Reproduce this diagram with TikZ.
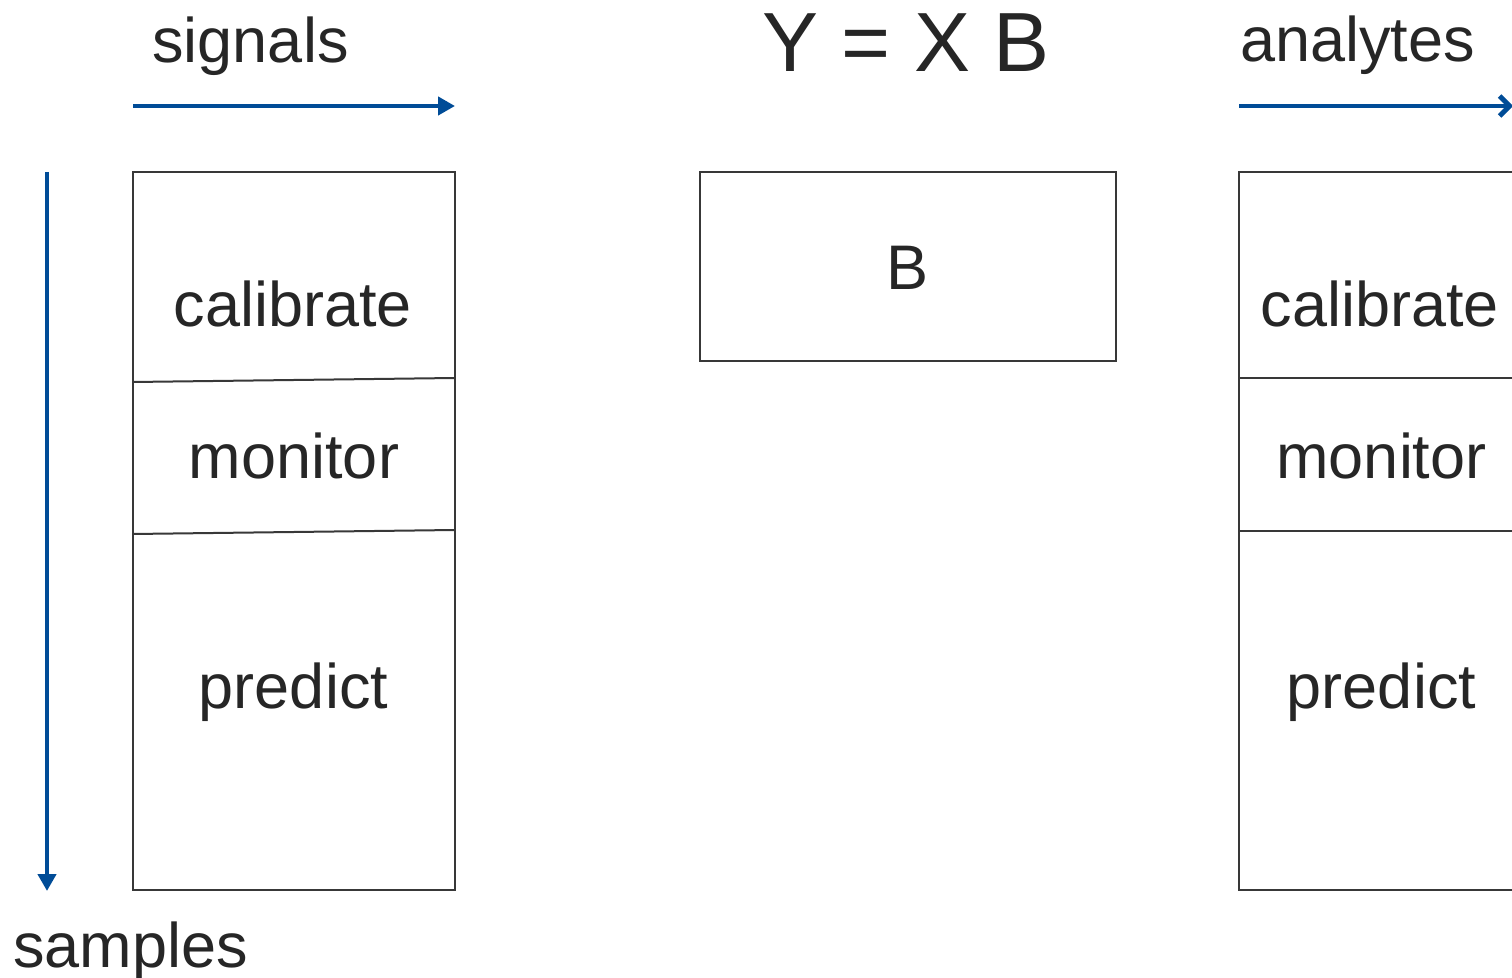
\documentclass[tikz,border=0pt]{standalone}
\usepackage{fontspec}
\setmainfont{Liberation Sans}
\usepackage{tikz}
\usetikzlibrary{arrows.meta}
\definecolor{axisblue}{RGB}{0,76,151}
\definecolor{inkgray}{RGB}{38,38,38}
\tikzstyle{word}=[inner sep=0pt, anchor=base, text=inkgray, font=\fontsize{31.5}{36}\selectfont]
\tikzstyle{bigword}=[inner sep=0pt, anchor=base, text=inkgray, font=\fontsize{42}{48}\selectfont]
\tikzstyle{cell}=[draw=black!78, line width=1pt]
\tikzstyle{axis}=[draw=axisblue, line width=2.4pt, -{Triangle[length=8.5pt,width=9pt]}]
\tikzstyle{axisopen}=[draw=axisblue, line width=2.4pt, -{Straight Barb[length=5pt,width=10pt,line width=2.4pt]}]

\begin{document}
\begin{tikzpicture}[x=0.5pt, y=-0.5pt]
	\clip (0,0) rectangle (1512,978);
	\fill[white] (0,0) rectangle (1512,978);
	\begin{scope}
		% axis names and equation
		\node (sig) at (250.5, 63) [word] {signals};
		\node (smp) at (130.5, 967) [word] {samples};
		\node (ana) at (1357.5, 62) [word] {analytes};
		\node (eq) at (906, 72) [bigword] {Y = X B};

		% X blocks
		\node (xcal) at (293, 327) [word] {calibrate};
		\node (xmon) at (294, 479) [word] {monitor};
		\node (xpre) at (293.5, 709) [word] {predict};

		% B block
		\node (b) at (908, 290) [word] {B};

		% Y blocks
		\node (ycal) at (1380, 327) [word] {calibrate};
		\node (ymon) at (1381.5, 479) [word] {monitor};
		\node (ypre) at (1381.5, 709) [word] {predict};

		\coordinate (s0) at (133, 106);
		\coordinate (s1) at (455, 106);
		\coordinate (a0) at (1239, 106);
		\coordinate (a1) at (1513, 106);
		\coordinate (v0) at (47, 172);
		\coordinate (v1) at (47, 891);
	\end{scope}
	\begin{scope}
		\draw [cell] (133, 172) rectangle (455, 890);
		\draw [cell] (133, 382) -- (455, 378);
		\draw [cell] (133, 534) -- (455, 530);

		\draw [cell] (700, 172) rectangle (1116, 361);

		\draw [cell] (1239, 172) rectangle (1530, 890);
		\draw [cell] (1239, 378) -- (1530, 378);
		\draw [cell] (1239, 531) -- (1530, 531);

		\draw [axis] (s0) -- (s1);
		\draw [axis] (v0) -- (v1);
		\draw [axisopen] (a0) -- (a1);
	\end{scope}
\end{tikzpicture}
\end{document}
